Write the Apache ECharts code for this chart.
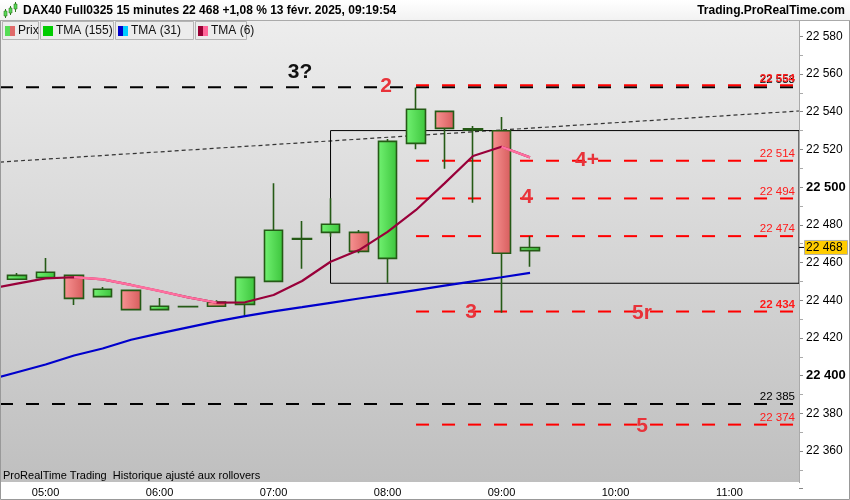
<!DOCTYPE html>
<html>
<head>
<meta charset="utf-8">
<script src="https://cdn.jsdelivr.net/npm/echarts@6/dist/echarts.min.js"></script>
<style>
  html, body { margin: 0; padding: 0; background: #fff; }
  #chart { width: 850px; height: 500px; }
</style>
</head>
<body>
<div id="chart"></div>
<script>
// DAX40 15 min — bougies, TMA et niveaux tracés à la main
const FONT = '"Liberation Sans", Arial, sans-serif';

// axe des temps (15 min), index = position sur l'axe x
const times = ['04:30', '04:45', '05:00', '05:15', '05:30', '05:45', '06:00', '06:15', '06:30', '06:45',
  '07:00', '07:15', '07:30', '07:45', '08:00', '08:15', '08:30', '08:45', '09:00', '09:15',
  '09:30', '09:45', '10:00', '10:15', '10:30', '10:45', '11:00', '11:15', '11:30'];
const hourLabels = ['05:00', '06:00', '07:00', '08:00', '09:00', '10:00', '11:00'];
const viewStart = 0.4;   // bord gauche de la fenêtre (en barres)
const viewEnd = 28.44;   // bord droit

// bougies
const candleTimes = ['04:45', '05:00', '05:15', '05:30', '05:45', '06:00', '06:15', '06:30', '06:45', '07:00',
  '07:15', '07:30', '07:45', '08:00', '08:15', '08:30', '08:45', '09:00', '09:15'];
const opens  = [22451.1, 22452.0, 22453.2, 22441.9, 22445.2, 22435.0, 22436.7, 22439.0, 22437.8, 22450.0,
  22472.7, 22476.0, 22476.0, 22462.2, 22523.2, 22540.2, 22531.0, 22529.9, 22466.3];
const closes = [22453.2, 22454.8, 22441.0, 22445.8, 22435.0, 22436.8, 22436.5, 22436.8, 22452.1, 22477.1,
  22472.4, 22480.3, 22465.9, 22524.3, 22541.3, 22531.2, 22530.4, 22464.9, 22468.0];
const lows   = [22451.1, 22452.0, 22437.5, 22441.9, 22435.0, 22435.0, 22436.5, 22436.8, 22431.8, 22450.0,
  22456.7, 22473.7, 22464.9, 22449.3, 22520.1, 22509.8, 22491.7, 22433.4, 22457.8];
const highs  = [22454.4, 22462.4, 22453.2, 22447.0, 22445.2, 22441.2, 22436.8, 22440.0, 22452.1, 22502.0,
  22482.0, 22494.1, 22477.2, 22525.5, 22552.9, 22540.2, 22532.4, 22537.2, 22474.1];

// moyennes mobiles triangulaires (04:30 -> 09:15)
const tma31 = [22397.7, 22401.8, 22405.9, 22410.7, 22414.4, 22419.0, 22422.4, 22425.6, 22428.8, 22431.6,
  22434.1, 22436.3, 22438.6, 22440.9, 22443.1, 22445.4, 22447.7, 22450.0, 22452.2, 22454.5];
const tma6 = [22446.0, 22448.8, 22451.6, 22452.2, 22451.1, 22448.1, 22444.9, 22441.5, 22438.7, 22438.9,
  22442.8, 22450.2, 22460.4, 22466.6, 22476.3, 22487.9, 22502.0, 22516.5, 22521.4, 22515.8];

// niveaux
const redLevels = [22554, 22514, 22494, 22474, 22434, 22374];
const redLevelBold = [true, false, false, false, true, false];
const blackLevels = [22553, 22385];
const redStart = '08:15';
const boxStart = '07:30';
const boxTop = 22530;
const boxBottom = 22449;
const trendStart = 22513.3;
const trendEnd = 22540.4;

// annotations (texte, position en barres, prix)
const noteTexts = ['3?', '2', '4+', '4', '3', '5r', '5'];
const noteBars = [10.93, 13.95, 21.0, 18.89, 16.93, 22.93, 22.93];
const notePrices = [22561.1, 22553.6, 22514.4, 22494.7, 22433.7, 22433.0, 22373.0];

const lastPrice = 22468;
const yTicks = { min: 22340, max: 22590, step: 20 };

function fmt(v) {
  return String(Math.round(v)).replace(/\B(?=(\d{3})+(?!\d))/g, ' ');
}

const idx = t => times.indexOf(t);

const candleData = candleTimes.map((t, k) => [idx(t), opens[k], closes[k], lows[k], highs[k]]);
const tma31Data = tma31.map((v, i) => [i, v]);
const tma6Data = tma6.map((v, i) => [i, v]);
const tma6Fall = tma6.map((v, i) =>
  [i, (i > 0 && v < tma6[i - 1]) || (i < tma6.length - 1 && tma6[i + 1] < v) ? v : '-']);

const grad = (a, b) => ({
  type: 'linear', x: 0, y: 0, x2: 1, y2: 0,
  colorStops: [{ offset: 0, color: a }, { offset: 1, color: b }]
});

const levelSeries = [];
blackLevels.forEach(v => {
  levelSeries.push({
    type: 'line', symbol: 'none', silent: true, z: 3,
    data: [[viewStart, v], [viewEnd, v]],
    lineStyle: { color: '#000', width: 2, type: [13, 13] }
  });
});
redLevels.forEach(v => {
  levelSeries.push({
    type: 'line', symbol: 'none', silent: true, z: 3,
    data: [[idx(redStart), v], [viewEnd, v]],
    lineStyle: { color: '#ff0000', width: 2, type: [13, 13] }
  });
});

const chart = echarts.init(document.getElementById('chart'), null, { renderer: 'canvas' });

chart.setOption({
  animation: false,
  backgroundColor: '#fff',
  grid: { left: 0, right: 51, top: 17.5, bottom: 11.3 },
  xAxis: {
    type: 'value', min: viewStart, max: viewEnd,
    axisLine: { show: false }, axisTick: { show: false }, splitLine: { show: false },
    axisLabel: {
      margin: -1, fontFamily: FONT, fontSize: 11, color: '#000',
      customValues: hourLabels.map(idx),
      formatter: v => times[Math.round(v)] || ''
    }
  },
  yAxis: {
    type: 'value', position: 'right', min: yTicks.min, max: yTicks.max, interval: yTicks.step,
    axisLine: { show: false, onZero: false },
    axisTick: { show: true, length: 4, lineStyle: { color: '#888' } },
    minorTick: { show: true, splitNumber: 2, length: 4, lineStyle: { color: '#aaa' } },
    splitLine: { show: false },
    axisLabel: {
      margin: 7, fontFamily: FONT, fontSize: 12, color: '#000',
      formatter: v => {
        if (v % yTicks.step !== 0 || v <= yTicks.min || v >= yTicks.max) return '';
        return v % 100 === 0 ? '{b|' + fmt(v) + '}' : fmt(v);
      },
      rich: { b: { fontFamily: FONT, fontSize: 13, fontWeight: 'bold', color: '#000' } }
    }
  },
  series: [
    {
      type: 'line', symbol: 'none', silent: true, z: 2,
      data: [[viewStart, trendStart], [viewEnd, trendEnd]],
      lineStyle: { color: '#333', width: 1.2, type: [4, 3] }
    },
    {
      type: 'line', symbol: 'none', silent: true, z: 2,
      data: [[idx(boxStart), boxTop], [viewEnd, boxTop], [viewEnd, boxBottom], [idx(boxStart), boxBottom], [idx(boxStart), boxTop]],
      lineStyle: { color: '#000', width: 1 }
    },
    ...levelSeries,
    {
      type: 'candlestick', data: candleData, barWidth: 19, z: 4,
      itemStyle: {
        color: grad('#72f272', '#3cc43c'),
        color0: grad('#f99494', '#d65c5c'),
        borderColor: '#255a16', borderColor0: '#255a16', borderWidth: 1.6
      }
    },
    {
      type: 'line', data: tma31Data, symbol: 'none', z: 5,
      lineStyle: { color: '#0000cc', width: 2.2 }
    },
    {
      type: 'line', data: tma6Data, symbol: 'none', z: 5,
      lineStyle: { color: '#99003a', width: 2.2 }
    },
    {
      type: 'line', data: tma6Fall, symbol: 'none', z: 5,
      lineStyle: { color: '#ff6f9f', width: 2.4 }
    }
  ]
});

// textes placés avec les échelles du graphique
const px = (bar, price) => chart.convertToPixel({ gridIndex: 0 }, [bar, price]);
const yLast = px(viewStart, lastPrice)[1];
const xRight = px(viewEnd, lastPrice)[0];

const levelTexts = [];
blackLevels.forEach(v => {
  levelTexts.push({ type: 'text', z: 110, x: xRight - 4, y: px(viewEnd, v)[1] - 7,
    style: { text: fmt(v), fill: '#000', font: '11.5px ' + FONT, align: 'right', verticalAlign: 'middle' } });
});
redLevels.forEach((v, i) => {
  levelTexts.push({ type: 'text', z: 111, x: xRight - 4, y: px(viewEnd, v)[1] - 7,
    style: { text: fmt(v), fill: '#ff1a1a', font: (redLevelBold[i] ? 'bold ' : '') + '11.5px ' + FONT,
      align: 'right', verticalAlign: 'middle' } });
});
const noteGraphics = noteTexts.map((t, i) => {
  const p = px(noteBars[i], notePrices[i]);
  return { type: 'text', z: 112, x: p[0], y: p[1],
    style: { text: t, fill: t === '3?' ? '#111' : '#e8333a', font: 'bold 21px ' + FONT,
      align: 'center', verticalAlign: 'middle' } };
});

function legendBox(x, w, c1, c2, text) {
  return [
    { type: 'rect', z: 100, shape: { x: x + 0.5, y: 21.5, width: w, height: 18 },
      style: { fill: '#ececec', stroke: '#b4b4b4', lineWidth: 1 } },
    { type: 'rect', z: 101, shape: { x: x + 3, y: 26, width: 5, height: 10 }, style: { fill: c1 } },
    { type: 'rect', z: 101, shape: { x: x + 8, y: 26, width: 5, height: 10 }, style: { fill: c2 } },
    { type: 'text', z: 101, x: x + 16, y: 31,
      style: { text: text, fill: '#111', font: '12px ' + FONT, verticalAlign: 'middle' } }
  ];
}

chart.setOption({
  graphic: [
    { type: 'rect', z: -5, shape: { x: 0, y: 20, width: 799, height: 462 },
      style: { fill: { type: 'linear', x: 0, y: 0, x2: 0, y2: 1,
        colorStops: [{ offset: 0, color: '#ededed' }, { offset: 1, color: '#bfbfbf' }] } } },
    { type: 'rect', z: 100, shape: { x: 0, y: 0, width: 850, height: 20 },
      style: { fill: { type: 'linear', x: 0, y: 0, x2: 0, y2: 1,
        colorStops: [{ offset: 0, color: '#ffffff' }, { offset: 1, color: '#f2f2f2' }] } } },
    { type: 'line', z: 100, shape: { x1: 0, y1: 20.5, x2: 850, y2: 20.5 }, style: { stroke: '#aaa', lineWidth: 1 } },
    { type: 'line', z: 100, shape: { x1: 799.5, y1: 20, x2: 799.5, y2: 483 }, style: { stroke: '#aaa', lineWidth: 1 } },
    { type: 'rect', z: 99, shape: { x: 0.5, y: 0.5, width: 849, height: 499 },
      style: { fill: 'none', stroke: '#999', lineWidth: 1 } },
    // icône bougies
    { type: 'line', z: 101, shape: { x1: 5.5, y1: 9, x2: 5.5, y2: 18 }, style: { stroke: '#2f7a1e', lineWidth: 1 } },
    { type: 'rect', z: 101, shape: { x: 4, y: 11, width: 3, height: 5 }, style: { fill: '#57d957', stroke: '#2f7a1e', lineWidth: 0.6 } },
    { type: 'line', z: 101, shape: { x1: 10.5, y1: 6, x2: 10.5, y2: 15 }, style: { stroke: '#2f7a1e', lineWidth: 1 } },
    { type: 'rect', z: 101, shape: { x: 9, y: 8, width: 3, height: 5 }, style: { fill: '#57d957', stroke: '#2f7a1e', lineWidth: 0.6 } },
    { type: 'line', z: 101, shape: { x1: 15.5, y1: 2, x2: 15.5, y2: 12 }, style: { stroke: '#2f7a1e', lineWidth: 1 } },
    { type: 'rect', z: 101, shape: { x: 14, y: 4, width: 3, height: 5 }, style: { fill: '#57d957', stroke: '#2f7a1e', lineWidth: 0.6 } },
    { type: 'text', z: 101, x: 23, y: 11,
      style: { text: 'DAX40 Full0325 15 minutes 22 468 +1,08 % 13 févr. 2025, 09:19:54',
        fill: '#000', font: 'bold 12px ' + FONT, verticalAlign: 'middle' } },
    { type: 'text', z: 101, x: 845, y: 11,
      style: { text: 'Trading.ProRealTime.com', fill: '#000', font: 'bold 12px ' + FONT,
        align: 'right', verticalAlign: 'middle' } },
    ...legendBox(2, 36, '#55dd55', '#e06a6a', 'Prix'),
    ...legendBox(40, 73, '#00cc00', '#00cc00', 'TMA (155)'),
    ...legendBox(115, 78, '#0000cc', '#00ccff', 'TMA (31)'),
    ...legendBox(195, 51, '#990033', '#ff6699', 'TMA (6)'),
    { type: 'text', z: 101, x: 3, y: 476,
      style: { text: 'ProRealTime Trading  Historique ajusté aux rollovers', fill: '#000',
        font: '11px ' + FONT, verticalAlign: 'middle' } },
    ...levelTexts,
    ...noteGraphics,
    // dernier cours
    { type: 'line', z: 101, shape: { x1: 799, y1: yLast, x2: 804, y2: yLast }, style: { stroke: '#000', lineWidth: 1 } },
    { type: 'rect', z: 101, shape: { x: 804.5, y: yLast - 7, width: 43, height: 14 },
      style: { fill: '#ffcc00', stroke: '#b0b0b0', lineWidth: 1 } },
    { type: 'text', z: 102, x: 806, y: yLast,
      style: { text: fmt(lastPrice), fill: '#000', font: '12px ' + FONT, verticalAlign: 'middle' } }
  ]
});
</script>
</body>
</html>
